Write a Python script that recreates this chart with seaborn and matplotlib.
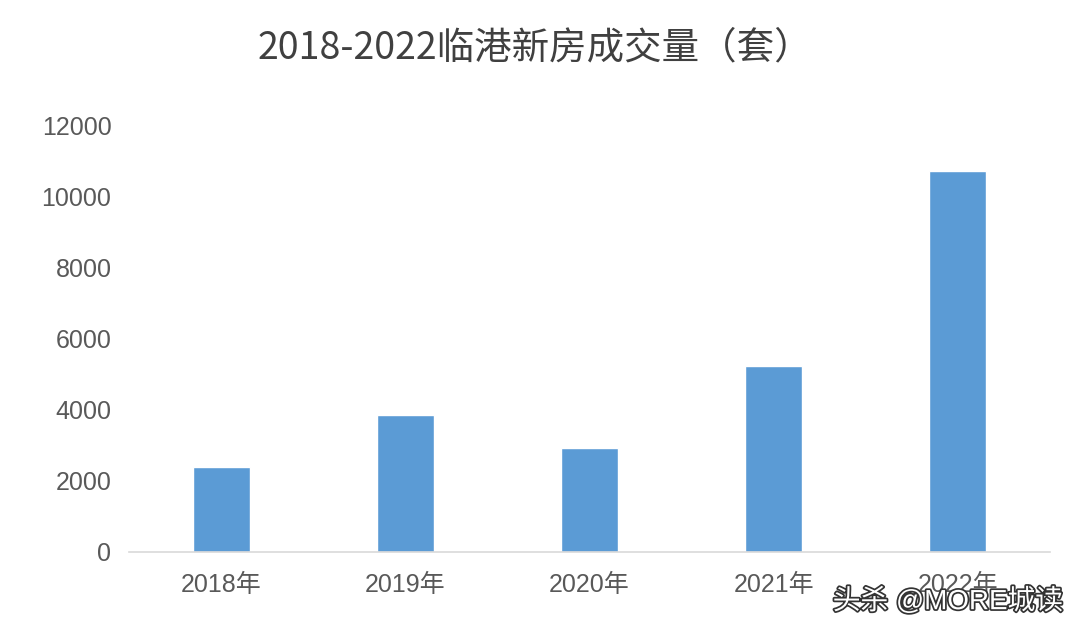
import matplotlib
matplotlib.use("Agg")
import matplotlib.pyplot as plt
import matplotlib.patheffects as pe
import seaborn as sns
import pandas as pd

# data
years = ["2018年", "2019年", "2020年", "2021年", "2022年"]
volumes = [2400, 3850, 2920, 5250, 10740]
y_ticks = [0, 2000, 4000, 6000, 8000, 10000, 12000]

sns.set_style("white")
plt.rcParams['font.family'] = ['Liberation Sans', 'Noto Sans CJK SC', 'DejaVu Sans']

df = pd.DataFrame({'year': years, 'volume': volumes})

fig = plt.figure(figsize=(10.8, 6.33), dpi=100)
ax = fig.add_axes([0.1199, 0.128, 0.852, 0.673])

sns.barplot(data=df, x='year', y='volume', color='#5B9BD5', saturation=1,
            width=0.31, ax=ax)

ax.set_ylim(0, 12000)
ax.set_yticks(y_ticks)
ax.set_yticklabels([str(t) for t in y_ticks])
ax.set_xlim(-0.5, len(years) - 0.5)
ax.set_xlabel('')
ax.set_ylabel('')

for side in ['top', 'right', 'left']:
    ax.spines[side].set_visible(False)
ax.spines['bottom'].set_color('#D9D9D9')
ax.spines['bottom'].set_linewidth(1.2)

ax.tick_params(axis='both', length=0, labelcolor='#595959', labelsize=18)
ax.tick_params(axis='y', pad=13)
ax.tick_params(axis='x', pad=15)

fig.text(0.495, 0.925, '2018-2022临港新房成交量（套）', ha='center', va='center',
         fontsize=27, color='#404040', style='italic',
         family=['Noto Sans CJK SC', 'DejaVu Sans'])

# watermark
fig.text(0.984, 0.05, '头杀 @MORE城读', ha='right', va='center', fontsize=20,
         color='white',
         path_effects=[pe.withStroke(linewidth=2.5, foreground='#333333')])

plt.savefig('out.png', dpi=100)
plt.close()
